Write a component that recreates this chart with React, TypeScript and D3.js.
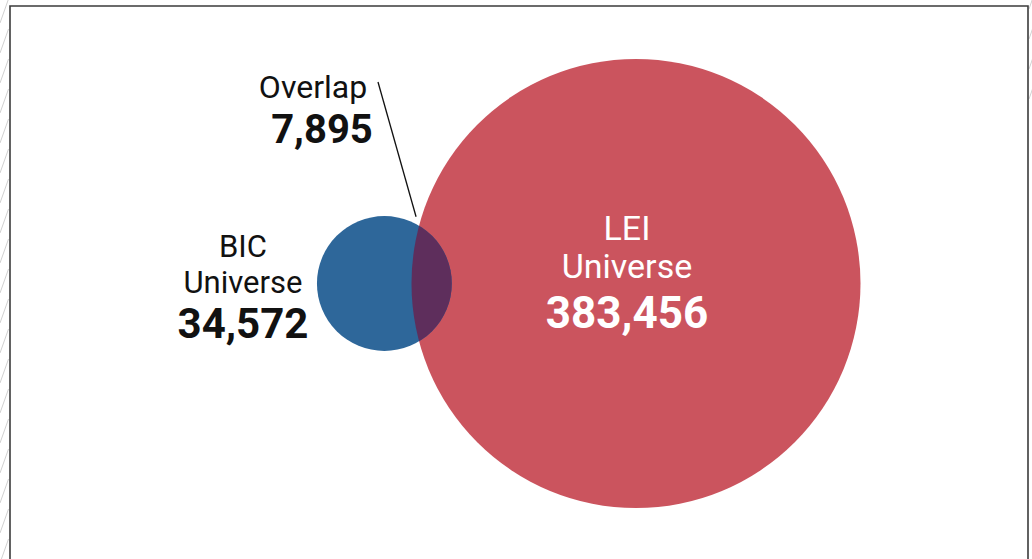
import React from 'react';
import * as d3 from 'd3';

// set sizes
const setNames = ['BIC Universe', 'LEI Universe'];
const setValues = [34572, 383456];
const overlapValue = 7895;
const overlapLabel = 'Overlap';

const width = 1032;
const height = 559;

const fmt = d3.format(',');

// area of the lens where two circles overlap
function lensArea(r1: number, r2: number, d: number) {
  if (d >= r1 + r2) return 0;
  if (d <= Math.abs(r1 - r2)) return Math.PI * Math.min(r1, r2) ** 2;
  const a1 = Math.acos((d * d + r1 * r1 - r2 * r2) / (2 * d * r1));
  const a2 = Math.acos((d * d + r2 * r2 - r1 * r1) / (2 * d * r2));
  return (
    r1 * r1 * (a1 - Math.sin(2 * a1) / 2) + r2 * r2 * (a2 - Math.sin(2 * a2) / 2)
  );
}

function distanceFor(r1: number, r2: number, target: number) {
  let lo = Math.abs(r1 - r2);
  let hi = r1 + r2;
  for (let i = 0; i < 60; i++) {
    const mid = (lo + hi) / 2;
    if (lensArea(r1, r2, mid) > target) lo = mid;
    else hi = mid;
  }
  return (lo + hi) / 2;
}

export default function App() {
  const r = d3.scaleSqrt().domain([0, setValues[1]]).range([0, 224.5]);
  const rBic = r(setValues[0]);
  const rLei = r(setValues[1]);
  // pixel area for one unit
  const unitArea = (Math.PI * rLei * rLei) / setValues[1];
  const d = distanceFor(rBic, rLei, overlapValue * unitArea);

  const cy = 283.5;
  const leiX = 636;
  const bicX = leiX - d;

  // top intersection of the two circles
  const a = (d * d + rBic * rBic - rLei * rLei) / (2 * d);
  const h = Math.sqrt(rBic * rBic - a * a);
  const ix = bicX + a;
  const iy = cy - h;

  const hatchLeft = d3.range(0, 20);
  const hatchRight = d3.range(0, 4);

  const font = 'Roboto, sans-serif';

  return (
    <svg
      width={width}
      height={height}
      style={{ position: 'absolute', left: 0, top: 0, background: '#fff' }}
    >
      <defs>
        <clipPath id="bic-clip">
          <circle cx={bicX} cy={cy} r={rBic} />
        </clipPath>
      </defs>

      {/* hatch marks outside the frame */}
      <g stroke="#c4c4c4" strokeWidth={0.8}>
        {hatchLeft.map((i) => (
          <line key={'l' + i} x1={0} y1={30 * i + 23} x2={8.5} y2={30 * i - 1} />
        ))}
        {hatchRight.map((i) => (
          <line key={'r' + i} x1={1029} y1={30 * i + 9} x2={1032.5} y2={30 * i - 1} />
        ))}
      </g>

      {/* frame */}
      <path
        d={`M10,${height + 5}V6H1028V${height + 5}`}
        fill="none"
        stroke="#3b3b3b"
        strokeWidth={1.6}
      />

      <circle cx={leiX} cy={cy} r={rLei} fill="#cb545e" />
      <circle cx={bicX} cy={cy} r={rBic} fill="#2e679a" />
      <circle cx={leiX} cy={cy} r={rLei} fill="#5e2e5c" clipPath="url(#bic-clip)" />

      {/* leader line for overlap */}
      <line x1={378} y1={82} x2={ix - 3} y2={iy - 9} stroke="#111" strokeWidth={1.3} />

      <g fontFamily={font} fill="#111">
        <text x={313} y={98} textAnchor="middle" fontSize={32}>
          {overlapLabel}
        </text>
        <text x={322} y={143} textAnchor="middle" fontSize={40} fontWeight={700}>
          {fmt(overlapValue)}
        </text>

        <text x={243} y={257} textAnchor="middle" fontSize={31}>
          {setNames[0].split(' ')[0]}
        </text>
        <text x={243} y={293} textAnchor="middle" fontSize={31}>
          {setNames[0].split(' ')[1]}
        </text>
        <text x={243} y={338} textAnchor="middle" fontSize={42} fontWeight={700}>
          {fmt(setValues[0])}
        </text>
      </g>

      <g fontFamily={font} fill="#fff">
        <text x={627} y={240} textAnchor="middle" fontSize={34}>
          {setNames[1].split(' ')[0]}
        </text>
        <text x={627} y={278} textAnchor="middle" fontSize={34}>
          {setNames[1].split(' ')[1]}
        </text>
        <text x={627} y={328} textAnchor="middle" fontSize={44} fontWeight={700}>
          {fmt(setValues[1])}
        </text>
      </g>
    </svg>
  );
}
